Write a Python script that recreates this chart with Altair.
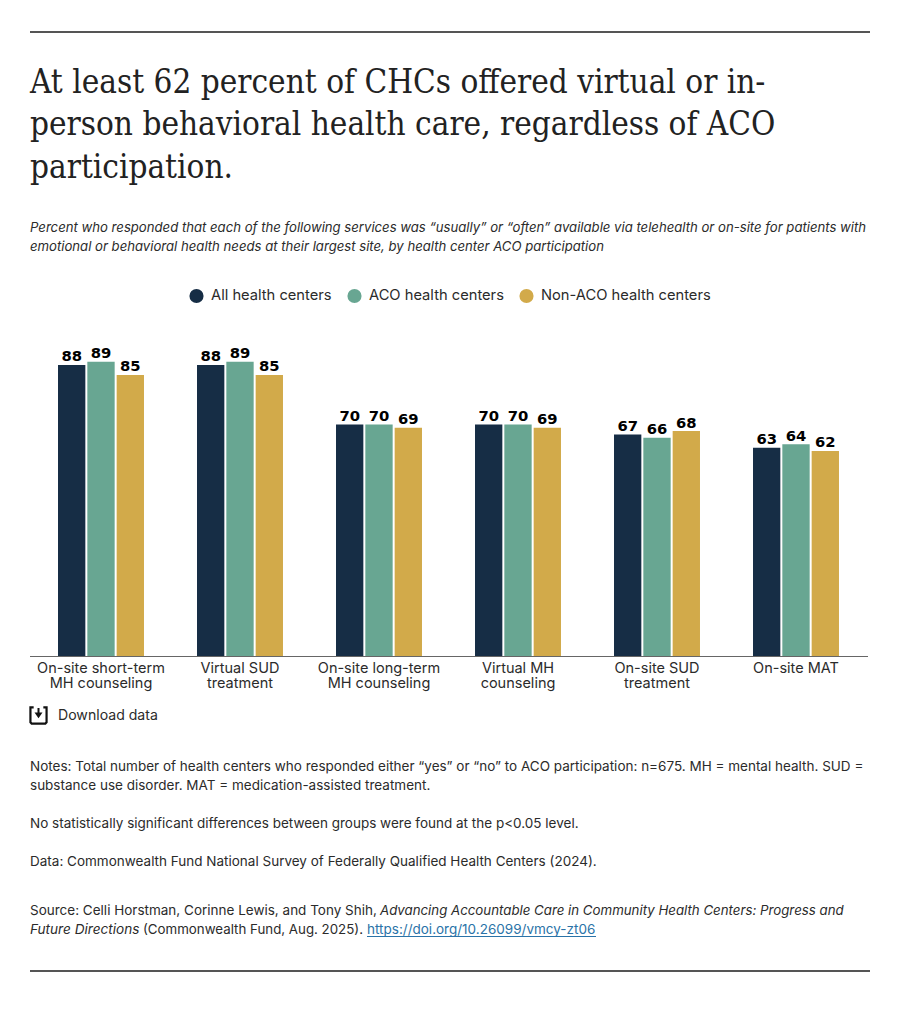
import altair as alt
import pandas as pd

categories = ["On-site short-term|MH counseling", "Virtual SUD|treatment", "On-site long-term|MH counseling",
              "Virtual MH|counseling", "On-site SUD|treatment", "On-site MAT"]
groups = ["All health centers", "ACO health centers", "Non-ACO health centers"]
colors = ["#162d45", "#68a692", "#d2aa4a"]
all_hc = [88, 88, 70, 70, 67, 63]
aco = [89, 89, 70, 70, 66, 64]
non_aco = [85, 85, 69, 69, 68, 62]

title_lines = ["At least 62 percent of CHCs offered virtual or in-",
               "person behavioral health care, regardless of ACO",
               "participation."]
subtitle_lines = ["Percent who responded that each of the following services was “usually” or “often” available via telehealth or on-site for patients with",
                  "emotional or behavioral health needs at their largest site, by health center ACO participation"]
note_lines = [("Notes: Total number of health centers who responded either “yes” or “no” to ACO participation: n=675. MH = mental health. SUD =", 771),
              ("substance use disorder. MAT = medication-assisted treatment.", 790),
              ("No statistically significant differences between groups were found at the p<0.05 level.", 828),
              ("Data: Commonwealth Fund National Survey of Federally Qualified Health Centers (2024).", 866)]

PX, PY = 31.5, 325.3      # plot-area origin on the page
W, H = 834, 330.7
SANS = "Inter"
SERIF = "DejaVu Serif Condensed, Liberation Serif"

rows = []
for vals, g in zip([all_hc, aco, non_aco], groups):
    for c, v in zip(categories, vals):
        rows.append({"cat": c, "group": g, "value": v})
df = pd.DataFrame(rows)

x = alt.X("cat:N", sort=categories, title=None,
          scale=alt.Scale(paddingInner=0, paddingOuter=0),
          axis=alt.Axis(domain=False, ticks=False, labelAngle=0, labelFont=SANS, labelFontSize=14.5,
                        labelColor="#2b2b2b", labelPadding=5, labelLineHeight=15.5, labelBaseline="top",
                        labelExpr="split(datum.label,'|')", labelLimit=200))
xo = alt.XOffset("group:N", sort=groups,
                 scale=alt.Scale(paddingInner=0.068, paddingOuter=0.904))
y = alt.Y("value:Q", scale=alt.Scale(domain=[0, 100], nice=False), axis=None)

bars = alt.Chart(df).mark_bar().encode(
    x=x, xOffset=xo, y=y,
    color=alt.Color("group:N", sort=groups, scale=alt.Scale(domain=groups, range=colors),
                    legend=alt.Legend(title=None, orient="none", direction="horizontal", columns=3,
                                      legendX=157.5, legendY=-37, symbolType="circle", symbolSize=200,
                                      symbolStrokeWidth=0, labelFont=SANS, labelFontSize=14.7, labelColor="#2b2b2b",
                                      labelOffset=7, columnPadding=15, labelLimit=300, symbolOpacity=1)),
)
labels = alt.Chart(df).mark_text(baseline="alphabetic", dy=-3.5, font="DejaVu Sans", fontWeight="bold",
                                 fontSize=14.8, color="#000000").encode(
    x=x, xOffset=xo, y=y, text="value:Q")


def tx(t, X, Y, size, font=SANS, color="#2b2b2b", style="normal"):
    return alt.Chart(pd.DataFrame({"t": [t]})).mark_text(
        align="left", baseline="alphabetic", font=font, fontSize=size, color=color, fontStyle=style, clip=False
    ).encode(x=alt.value(X - PX), y=alt.value(Y - PY), text="t:N")


def rule(x1, x2, y1, y2=None, color="#555555", w=2.0):
    enc = dict(x=alt.value(x1 - PX), x2=alt.value(x2 - PX), y=alt.value(y1 - PY))
    if y2 is not None:
        enc["y2"] = alt.value(y2 - PY)
    return alt.Chart(pd.DataFrame({"a": [0]})).mark_rule(color=color, strokeWidth=w).encode(**enc)


layers = [bars, labels]
layers += [rule(30, 870, 32), rule(30, 870, 971), rule(30, 868, 656.5, w=1.2, color="#666666")]
for i, t in enumerate(title_lines):
    layers.append(tx(t, 30, 93 + i * 42.5, 33, font=SERIF, color="#222222"))
for i, t in enumerate(subtitle_lines):
    layers.append(tx(t, 30, 232 + i * 19, 13.15, color="#2b2b2b", style="italic"))
for t, yy in note_lines:
    layers.append(tx(t, 30, yy, 13.5))
layers.append(tx("Download data", 58, 720, 14.1))
layers.append(tx("Source: Celli Horstman, Corinne Lewis, and Tony Shih,", 30, 915, 13.5))
layers.append(tx("Advancing Accountable Care in Community Health Centers: Progress and", 380, 915, 13.27, style="italic"))
layers.append(tx("Future Directions", 30, 934, 13.6, style="italic"))
layers.append(tx("(Commonwealth Fund, Aug. 2025).", 143, 934, 13.3))
layers.append(tx("https://doi.org/10.26099/vmcy-zt06", 367, 934, 13.5, color="#2a73a8"))
layers.append(rule(367, 596, 936.5, color="#2a73a8", w=1))
# download icon
icon = alt.Chart(pd.DataFrame({"a": [0]})).mark_point(
    shape="M-0.6,-1 L-1,-1 L-1,0.85 L-0.85,1 L0.85,1 L1,0.85 L1,-1 L0.6,-1",
    size=260, color="#111111", strokeWidth=2.2, filled=False, opacity=1
).encode(x=alt.value(38.5 - PX), y=alt.value(715.5 - PY))
arrow_head = alt.Chart(pd.DataFrame({"a": [0]})).mark_point(
    shape="M-1,-0.6 L1,-0.6 L0,0.8 Z", size=64, color="#111111", filled=True, opacity=1
).encode(x=alt.value(38.5 - PX), y=alt.value(715 - PY))
layers += [icon, arrow_head, alt.Chart(pd.DataFrame({"a": [0]})).mark_rule(color="#111111", strokeWidth=2).encode(
    x=alt.value(38.5 - PX), y=alt.value(708 - PY), y2=alt.value(714 - PY))]

chart = alt.layer(*layers).properties(
    width=W, height=H,
    padding={"left": PX - 8, "top": PY - 8, "right": 900 - 16 - W - (PX - 8), "bottom": 1017 - (PY - 8) - H - 4},
    autosize=alt.AutoSizeParams(type="none"),
    background="#ffffff",
).configure_view(stroke=None).resolve_scale(x="shared")

chart.save("out.html", embed_options={"renderer": "svg", "actions": False})
